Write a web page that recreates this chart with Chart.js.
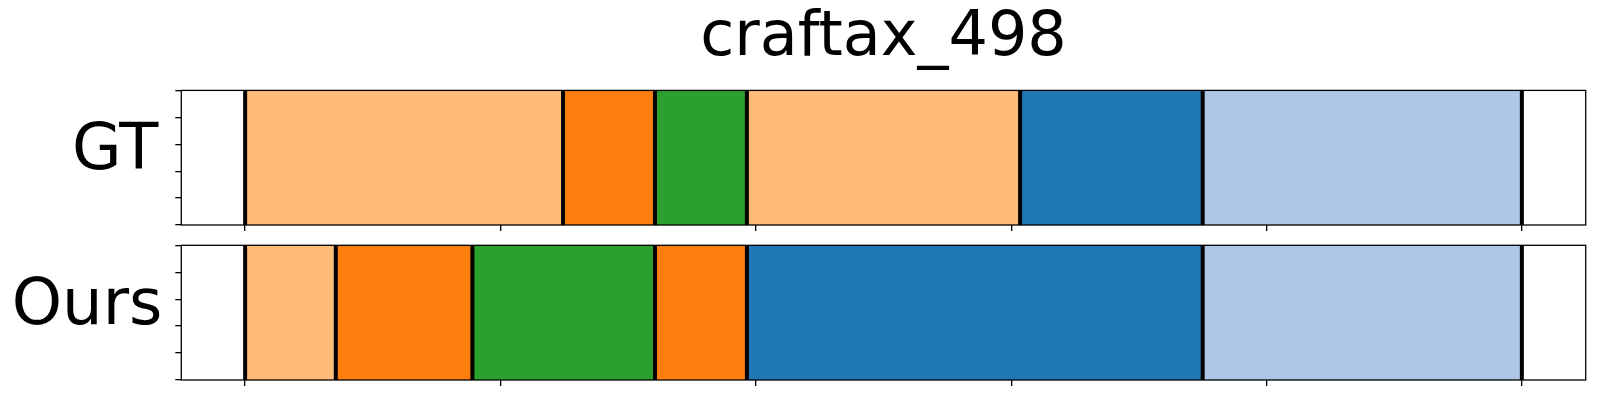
<!DOCTYPE html>
<html>
<head>
<meta charset="utf-8">
<title>craftax_498</title>
<script src="https://cdn.jsdelivr.net/npm/chart.js@4.4.1/dist/chart.umd.min.js"></script>
<style>
  html, body { margin: 0; padding: 0; background: #fff; }
  #wrap { position: relative; width: 1600px; height: 400px; }
  canvas { position: absolute; left: 0; }
</style>
</head>
<body>
<div id="wrap">
  <canvas id="gt-chart" width="1600" height="235" style="top:0"></canvas>
  <canvas id="ours-chart" width="1600" height="165" style="top:235px"></canvas>
</div>
<script>
const TITLE = "craftax_498";
const X_MIN = -25, X_MAX = 525;
const X_TICKS = [0, 100, 200, 300, 400, 500];
const Y_TICKS = [0, 0.25, 0.5, 0.75, 1];

// segment edges (frames) and the class of each segment between two edges
const GT_EDGES = [0, 124.5, 160.5, 196.5, 303.5, 375, 500];
const GT_CLASSES = ["lightOrange", "orange", "green", "lightOrange", "blue", "lightBlue"];
const OURS_EDGES = [0, 35.5, 89, 160.5, 196.5, 375, 500];
const OURS_CLASSES = ["lightOrange", "orange", "green", "orange", "blue", "lightBlue"];

const CLASS_COLORS = {
  blue: "#1f77b4",
  lightBlue: "#aec7e8",
  orange: "#ff7f0e",
  lightOrange: "#ffbb78",
  green: "#2ca02c",
};

const FONT = "'DejaVu Sans', sans-serif";

// boundary lines + axes box
const segFrame = {
  id: "segFrame",
  afterDatasetsDraw(chart, args, opts) {
    const { ctx, chartArea: a, scales: { x } } = chart;
    ctx.save();
    ctx.strokeStyle = "#000";
    ctx.lineWidth = 4;
    opts.edges.forEach(v => {
      const px = x.getPixelForValue(v);
      ctx.beginPath();
      ctx.moveTo(px, a.top);
      ctx.lineTo(px, a.bottom);
      ctx.stroke();
    });
    ctx.lineWidth = 1.3;
    ctx.strokeRect(a.left, a.top, a.right - a.left, a.bottom - a.top);
    ctx.restore();
  }
};

const tickGrid = { drawOnChartArea: false, drawTicks: true, tickLength: 6, color: "#000", lineWidth: 1.3 };

function makeChart(id, label, edges, classes, showTitle, padding, labelPad) {
  const segs = classes.map((c, i) => ({ x: [edges[i], edges[i + 1]], y: label }));
  return new Chart(document.getElementById(id), {
    type: "bar",
    data: {
      labels: [label],
      datasets: [{
        data: segs,
        backgroundColor: classes.map(c => CLASS_COLORS[c]),
        borderWidth: 0,
        categoryPercentage: 1,
        barPercentage: 1,
        xAxisID: "x",
        yAxisID: "yc",
      }],
    },
    options: {
      indexAxis: "y",
      responsive: false,
      animation: false,
      events: [],
      layout: { padding },
      plugins: {
        legend: { display: false },
        tooltip: { enabled: false },
        title: {
          display: showTitle,
          fullSize: false,
          text: TITLE,
          color: "#000",
          font: { family: FONT, size: 62, weight: "normal" },
          padding: { top: 2, bottom: 14 },
        },
        segFrame: { edges },
      },
      scales: {
        x: {
          type: "linear", min: X_MIN, max: X_MAX,
          afterBuildTicks: s => { s.ticks = X_TICKS.map(v => ({ value: v })); },
          ticks: { display: false, stepSize: 100 },
          grid: tickGrid,
          border: { display: false },
        },
        yt: {
          type: "linear", position: "left", weight: 0, min: 0, max: 1,
          afterBuildTicks: s => { s.ticks = Y_TICKS.map(v => ({ value: v })); },
          ticks: { display: false, stepSize: 0.25 },
          grid: tickGrid,
          border: { display: false },
        },
        yc: {
          type: "category", position: "left", weight: 1,
          grid: { display: false, drawTicks: false, tickLength: 0 },
          border: { display: false },
          ticks: { color: "#000", font: { family: FONT, size: 64 }, padding: labelPad, labelOffset: -5 },
          afterFit: s => {
            s.width = 175.3;
            s.paddingTop = 0;
            s.paddingBottom = 0;
          },
        },
      },
    },
    plugins: [segFrame],
  });
}

makeChart("gt-chart", "GT", GT_EDGES, GT_CLASSES, true, { top: 0, right: 14.3, bottom: 4, left: 0 }, 17);
makeChart("ours-chart", "Ours", OURS_EDGES, OURS_CLASSES, false, { top: 10.3, right: 14.3, bottom: 14, left: 0 }, 13);
</script>
</body>
</html>
